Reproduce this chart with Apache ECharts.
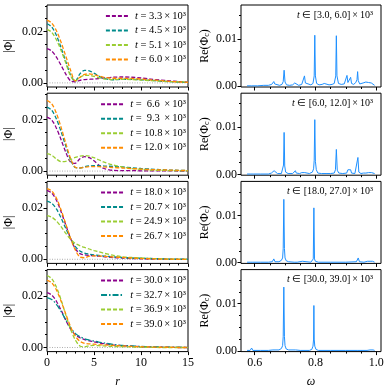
<!DOCTYPE html>
<html><head><meta charset="utf-8">
<script src="https://cdn.jsdelivr.net/npm/echarts@6/dist/echarts.min.js"></script>
<style>html,body{margin:0;padding:0;background:#fff}#c{width:389px;height:389px}</style>
</head><body><div id="c"></div>
<script>
// ---------- DATA ----------
const r = [0,0.5,1,1.5,2,2.5,3,3.5,4,4.5,5,5.5,6,7,8,9,10,11,12,13,14,15];

// panel 1 : t = 3.3, 4.5, 5.1, 6.0 (x10^3)
const p1Times = ['3.3','4.5','5.1','6.0'];
const p1_a = [0.0133,0.0124,0.0100,0.0068,0.0034,0.0008,0.0004,0.0010,0.0013,0.0014,0.0015,0.0017,0.0019,0.0022,0.0023,0.0022,0.0019,0.0015,0.0011,0.0008,0.0005,0.0003];
const p1_b = [0.0230,0.0218,0.0185,0.0137,0.0083,0.0032,0.0006,0.0035,0.0049,0.0047,0.0038,0.0027,0.0018,0.0012,0.0014,0.0014,0.0012,0.0010,0.0007,0.0005,0.0003,0.0002];
const p1_c = [0.0208,0.0197,0.0168,0.0126,0.0077,0.0028,0.0007,0.0021,0.0029,0.0029,0.0025,0.0020,0.0016,0.0013,0.0014,0.0013,0.0011,0.0009,0.0007,0.0005,0.0004,0.0003];
const p1_d = [0.0244,0.0233,0.0203,0.0158,0.0104,0.0050,0.0008,0.0022,0.0033,0.0035,0.0032,0.0027,0.0022,0.0018,0.0018,0.0017,0.0015,0.0012,0.0009,0.0006,0.0004,0.0002];

// panel 2 : t = 6.6, 9.3, 10.8, 12.0
const p2Times = ['6.6','9.3','10.8','12.0'];
const p2_a = [0.0210,0.0199,0.0167,0.0122,0.0073,0.0035,0.0030,0.0048,0.0056,0.0052,0.0040,0.0024,0.0011,0.0003,0.0002,0.0002,0.0001,0.0001,0.0001,0.0001,0.0000,0.0000];
const p2_b = [0.0249,0.0237,0.0203,0.0153,0.0097,0.0045,0.0014,0.0012,0.0017,0.0020,0.0021,0.0021,0.0020,0.0018,0.0016,0.0013,0.0010,0.0008,0.0006,0.0004,0.0003,0.0002];
const p2_c = [0.0068,0.0062,0.0047,0.0037,0.0038,0.0045,0.0053,0.0058,0.0060,0.0058,0.0052,0.0044,0.0036,0.0024,0.0016,0.0010,0.0007,0.0004,0.0003,0.0002,0.0001,0.0001];
const p2_d = [0.0275,0.0262,0.0225,0.0170,0.0108,0.0050,0.0015,0.0012,0.0015,0.0017,0.0017,0.0017,0.0016,0.0014,0.0012,0.0010,0.0008,0.0006,0.0005,0.0004,0.0003,0.0002];

// panel 3 : t = 18.0, 20.7, 24.9, 26.7
const p3Times = ['18.0','20.7','24.9','26.7'];
const p3_a = [0.0268,0.0258,0.0230,0.0185,0.0133,0.0082,0.0042,0.0022,0.0017,0.0015,0.0014,0.0012,0.0010,0.0007,0.0005,0.0003,0.0002,0.0001,0.0001,0.0000,0.0000,0.0000];
const p3_b = [0.0226,0.0218,0.0196,0.0161,0.0120,0.0081,0.0050,0.0032,0.0024,0.0020,0.0017,0.0015,0.0013,0.0010,0.0007,0.0005,0.0004,0.0003,0.0002,0.0001,0.0001,0.0000];
const p3_c = [0.0170,0.0164,0.0149,0.0127,0.0101,0.0078,0.0062,0.0053,0.0046,0.0040,0.0034,0.0029,0.0024,0.0016,0.0010,0.0007,0.0005,0.0003,0.0002,0.0001,0.0001,0.0000];
const p3_d = [0.0275,0.0266,0.0238,0.0192,0.0137,0.0082,0.0037,0.0009,0.0006,0.0012,0.0013,0.0013,0.0012,0.0009,0.0007,0.0005,0.0003,0.0002,0.0001,0.0001,0.0000,0.0000];

// panel 4 : t = 30.0, 32.7, 36.9, 39.0
const p4Times = ['30.0','32.7','36.9','39.0'];
const p4_a = [0.0213,0.0204,0.0180,0.0145,0.0106,0.0072,0.0050,0.0038,0.0031,0.0026,0.0022,0.0018,0.0015,0.0010,0.0007,0.0005,0.0003,0.0002,0.0001,0.0001,0.0000,0.0000];
const p4_b = [0.0194,0.0187,0.0168,0.0140,0.0107,0.0077,0.0055,0.0042,0.0034,0.0029,0.0025,0.0021,0.0018,0.0012,0.0008,0.0006,0.0004,0.0003,0.0002,0.0001,0.0001,0.0000];
const p4_c = [0.0280,0.0268,0.0235,0.0185,0.0127,0.0072,0.0030,0.0006,0.0003,0.0007,0.0008,0.0007,0.0006,0.0004,0.0003,0.0002,0.0001,0.0001,0.0000,0.0000,0.0000,0.0000];
const p4_d = [0.0262,0.0252,0.0224,0.0180,0.0130,0.0082,0.0045,0.0024,0.0016,0.0014,0.0013,0.0011,0.0010,0.0008,0.0006,0.0004,0.0003,0.0002,0.0001,0.0001,0.0000,0.0000];

// spectra Re(Phi_c) vs omega : [omega, value]
const specLabels = ['[3.0, 6.0]','[6.0, 12.0]','[18.0, 27.0]','[30.0, 39.0]'];
const spec1 = [[0.575,0.0001],[0.59,0.0001],[0.61,0.0001],[0.63,0.0002],[0.645,0.0002],[0.656,0.0004],[0.660,0.0006],[0.663,0.0010],[0.666,0.0005],[0.672,0.0002],[0.682,0.0002],[0.690,0.0004],[0.694,0.0010],[0.697,0.0034],[0.700,0.0009],[0.705,0.0003],[0.715,0.0002],[0.725,0.0003],[0.730,0.0005],[0.732,0.0007],[0.735,0.0003],[0.745,0.0002],[0.755,0.0004],[0.761,0.0008],[0.764,0.0022],[0.767,0.0007],[0.773,0.0003],[0.785,0.0003],[0.792,0.0006],[0.796,0.0022],[0.798,0.0108],[0.800,0.0022],[0.804,0.0006],[0.812,0.0003],[0.822,0.0004],[0.829,0.0006],[0.832,0.0009],[0.835,0.0004],[0.845,0.0003],[0.855,0.0004],[0.862,0.0006],[0.867,0.0022],[0.869,0.0107],[0.871,0.0022],[0.876,0.0006],[0.885,0.0004],[0.895,0.0005],[0.901,0.0009],[0.904,0.0023],[0.907,0.0008],[0.911,0.0008],[0.916,0.0019],[0.919,0.0006],[0.926,0.0004],[0.933,0.0008],[0.937,0.0014],[0.939,0.0031],[0.941,0.0012],[0.946,0.0005],[0.952,0.0004],[0.957,0.0007],[0.961,0.0005],[0.966,0.0009],[0.970,0.0006],[0.975,0.0008],[0.979,0.0005],[0.984,0.0007],[0.989,0.0003],[0.995,0.0002]];
const spec2 = [[0.575,0.0001],[0.585,0.0001],[0.590,0.0002],[0.595,0.0001],[0.62,0.0001],[0.645,0.0001],[0.655,0.0003],[0.660,0.0006],[0.664,0.0008],[0.668,0.0004],[0.675,0.0002],[0.688,0.0002],[0.693,0.0006],[0.695,0.0020],[0.697,0.0089],[0.699,0.0018],[0.702,0.0005],[0.71,0.0002],[0.725,0.0002],[0.731,0.0005],[0.734,0.0008],[0.737,0.0003],[0.748,0.0002],[0.755,0.0004],[0.760,0.0006],[0.765,0.0004],[0.78,0.0002],[0.790,0.0005],[0.794,0.0012],[0.796,0.0030],[0.798,0.0116],[0.800,0.0028],[0.803,0.0010],[0.808,0.0003],[0.82,0.0002],[0.835,0.0002],[0.85,0.0002],[0.862,0.0003],[0.866,0.0010],[0.869,0.0053],[0.872,0.0009],[0.877,0.0003],[0.89,0.0002],[0.903,0.0003],[0.907,0.0010],[0.910,0.0006],[0.913,0.0009],[0.916,0.0010],[0.919,0.0003],[0.93,0.0002],[0.936,0.0005],[0.940,0.0036],[0.943,0.0005],[0.95,0.0002],[0.958,0.0003],[0.962,0.0006],[0.966,0.0003],[0.970,0.0006],[0.975,0.0004],[0.980,0.0007],[0.985,0.0004],[0.990,0.0005],[0.995,0.0002]];
const spec3 = [[0.575,0.0001],[0.585,0.0001],[0.590,0.0005],[0.594,0.0001],[0.62,0.0001],[0.645,0.0001],[0.658,0.0002],[0.663,0.0008],[0.667,0.0002],[0.680,0.0002],[0.688,0.0005],[0.692,0.0010],[0.694,0.0030],[0.696,0.0134],[0.698,0.0030],[0.700,0.0010],[0.704,0.0004],[0.712,0.0002],[0.730,0.0001],[0.735,0.0003],[0.740,0.0001],[0.757,0.0003],[0.762,0.0001],[0.785,0.0001],[0.790,0.0003],[0.793,0.0008],[0.795,0.0116],[0.797,0.0008],[0.800,0.0003],[0.81,0.0001],[0.85,0.0001],[0.90,0.0001],[0.935,0.0002],[0.941,0.0010],[0.945,0.0002],[0.96,0.0001],[0.972,0.0003],[0.976,0.0005],[0.980,0.0003],[0.984,0.0006],[0.988,0.0003],[0.995,0.0001]];
const spec4 = [[0.575,0.0001],[0.585,0.0001],[0.590,0.0006],[0.594,0.0001],[0.62,0.0001],[0.645,0.0001],[0.660,0.0002],[0.663,0.0005],[0.666,0.0001],[0.680,0.0002],[0.688,0.0005],[0.692,0.0011],[0.694,0.0030],[0.696,0.0135],[0.698,0.0030],[0.700,0.0011],[0.704,0.0004],[0.712,0.0002],[0.735,0.0002],[0.75,0.0001],[0.780,0.0001],[0.788,0.0003],[0.792,0.0010],[0.794,0.0025],[0.795,0.0096],[0.796,0.0025],[0.798,0.0010],[0.802,0.0003],[0.81,0.0001],[0.85,0.0001],[0.90,0.0001],[0.94,0.0001],[0.943,0.0003],[0.946,0.0001],[0.97,0.0001],[0.980,0.0002],[0.986,0.0005],[0.990,0.0002],[0.995,0.0001]];

// ticks
const rTicks = [0,5,10,15];
const rMinor = [1,2,3,4,6,7,8,9,11,12,13,14];
const phiTicks = [0,0.02];
const phiMinor = [0.005,0.01,0.015,0.025,0.03];
const wTicks = [0.6,0.8,1.0];
const wMinor = [0.65,0.7,0.75,0.85,0.9,0.95];
const reTicks = [0,0.01];
const reMinor = [0.0025,0.005,0.0075,0.0125,0.015];

// ---------- BUILD ----------
const FONT = 'Liberation Serif';
const colors = ['#8B008B','#008B8B','#9ACD32','#FF8C00'];
const panelTimes = [p1Times,p2Times,p3Times,p4Times];
const panelCurves = [[p1_a,p1_b,p1_c,p1_d],[p2_a,p2_b,p2_c,p2_d],[p3_a,p3_b,p3_c,p3_d],[p4_a,p4_b,p4_c,p4_d]];
const spectra = [spec1,spec2,spec3,spec4];
const D = [4,2], DD = [6,2,1.5,2];
const dashTypes = [[D,D,D,D],[D,D,D,D],[D,D,D,D],[D,DD,D,D]];

const tops = [5, 93.2, 181.4, 269.6], H = 82;
const LX = 47, LW = 141, RX = 241, RW = 140;
const grids=[], xAxes=[], yAxes=[], series=[], legends=[], titles=[];
const lab = {fontFamily:FONT, fontSize:12, color:'#000'};
const tick = (vals,len)=>({show:true, customValues:vals, length:len, lineStyle:{color:'#000', width:1}});
const TS = '\u2009';

for (let k=0;k<4;k++) grids.push({left:LX, top:tops[k], width:LW, height:H, show:true, borderColor:'#000', borderWidth:1});
for (let k=0;k<4;k++) grids.push({left:RX, top:tops[k], width:RW, height:H, show:true, borderColor:'#000', borderWidth:1});

for (let g=0; g<8; g++){
  const left = g<4, k = g%4, bottom = k===3;
  xAxes.push({type:'value', gridIndex:g, position:'bottom', min:left?0:0.555, max:left?15:1.016,
    axisLine:{show:false, onZero:false}, splitLine:{show:false},
    axisTick:tick(left?rTicks:wTicks,3.5),
    axisLabel:Object.assign({show:bottom, customValues:left?rTicks:wTicks, margin:5,
      formatter:v=> left? String(Math.round(v)) : v.toFixed(1)}, lab),
    name: bottom ? (left?'r':'ω') : '', nameLocation:'middle', nameGap:24,
    nameTextStyle:{fontFamily:FONT, fontSize:12, fontStyle:'italic', color:'#000'}});
  yAxes.push({type:'value', gridIndex:g, position:'left', min:left?-0.0016:-0.00015, max:left?0.0303:0.0172,
    axisLine:{show:false, onZero:false}, splitLine:{show:false},
    axisTick:tick(left?phiTicks:reTicks,3.5),
    axisLabel:Object.assign({customValues:left?phiTicks:reTicks, margin:4, formatter:v=>v.toFixed(2)}, lab),
    name: left ? '|Φ|' : '{a|Re(Φ}{b|c}{a|)}', nameLocation:'middle', nameGap: left?32:30, nameRotate:90,
    nameTextStyle:{fontFamily:FONT, fontSize:12, color:'#000',
      rich:{a:{fontFamily:FONT,fontSize:12,color:'#000'}, b:{fontFamily:FONT,fontSize:8,color:'#000',padding:[4,0,0,0]}}}});
}
for (let g=0; g<8; g++){
  const left = g<4;
  xAxes.push({type:'value', gridIndex:g, position:'bottom', min:left?0:0.555, max:left?15:1.016,
    axisLine:{show:false, onZero:false}, splitLine:{show:false}, axisLabel:{show:false},
    axisTick:tick(left?rMinor:wMinor,2)});
  yAxes.push({type:'value', gridIndex:g, position:'left', min:left?-0.0016:-0.00015, max:left?0.0303:0.0172,
    axisLine:{show:false, onZero:false}, splitLine:{show:false}, axisLabel:{show:false},
    axisTick:tick(left?phiMinor:reMinor,2)});
}
for (let k=0;k<4;k++){
  series.push({type:'line', xAxisIndex:k, yAxisIndex:k, silent:true, symbol:'none', z:1,
    data:[[0,0],[15,0]], lineStyle:{type:[1,1.5], color:'#999', width:0.8}});
  const names=[];
  for (let j=0;j<4;j++){
    const nm = panelTimes[k][j];
    names.push(nm);
    series.push({type:'line', name:nm, xAxisIndex:k, yAxisIndex:k, symbol:'none', showSymbol:false, smooth:0.3,
      data:r.map((x,i)=>[x, panelCurves[k][j][i]]), color:colors[j],
      lineStyle:{color:colors[j], width:1.3, type:dashTypes[k][j]}, z:2+j});
  }
  legends.push({data:names, orient:'vertical', right:203, top:tops[k]+5.5, padding:0,
    itemWidth:22, itemHeight:8, itemGap:3.5, itemStyle:{opacity:0},
    formatter:n=>TS+'{i|t} = {n|'+n+'}'+TS+'×'+TS+'10³',
    textStyle:{fontFamily:FONT, fontSize:10.5, color:'#000', lineHeight:11,
      rich:{i:{fontFamily:FONT,fontSize:10.5,fontStyle:'italic',color:'#000'},
            n:{fontFamily:FONT,fontSize:10.5,color:'#000',width:k===0?undefined:18,align:'right'}}}});
}
for (let k=0;k<4;k++){
  series.push({type:'line', name:'spec'+k, xAxisIndex:4+k, yAxisIndex:4+k, symbol:'none',
    data:spectra[k], lineStyle:{color:'#1E90FF', width:1}, color:'#1E90FF'});
  titles.push({text:'{i|t} ∈ '+specLabels[k]+TS+'×'+TS+'10³', right:16, top:tops[k]+5, padding:0,
    textStyle:{fontFamily:FONT, fontSize:10, fontWeight:'normal', color:'#000',
      rich:{i:{fontFamily:FONT,fontSize:10,fontStyle:'italic',color:'#000'}}}});
}

const chart = echarts.init(document.getElementById('c'), null, {renderer:'canvas'});
chart.setOption({animation:false, backgroundColor:'#fff', grid:grids, xAxis:xAxes, yAxis:yAxes,
  series:series, legend:legends, title:titles});
</script></body></html>
